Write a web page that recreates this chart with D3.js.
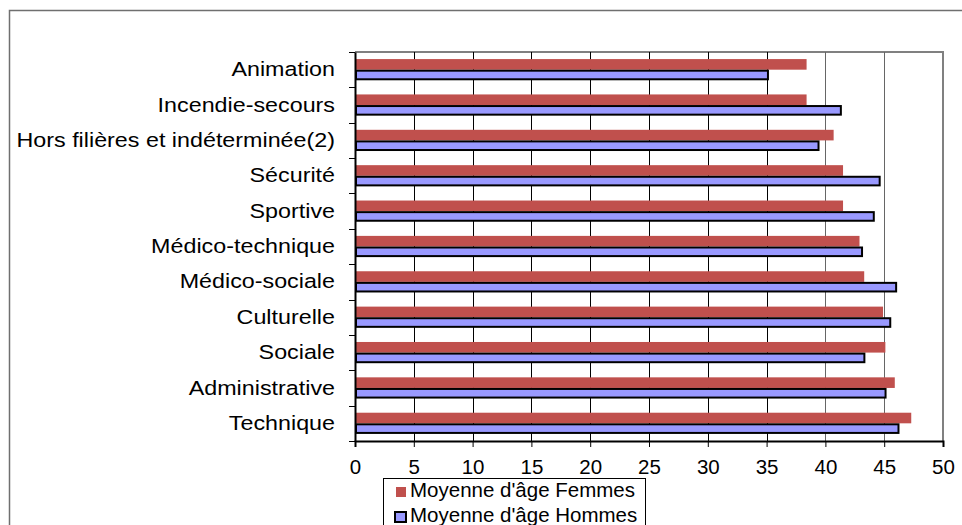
<!DOCTYPE html>
<html><head><meta charset="utf-8">
<script src="https://cdn.jsdelivr.net/npm/d3@7"></script>
<style>html,body{margin:0;padding:0;background:#fff;}svg{display:block;font-family:Arial,"Liberation Sans",sans-serif;}</style>
</head><body>
<svg id="c" width="962" height="525"></svg>
<script>
const categories = ["Animation","Incendie-secours","Hors filières et indéterminée(2)","Sécurité","Sportive","Médico-technique","Médico-sociale","Culturelle","Sociale","Administrative","Technique"];
const femmes = [38.4,38.4,40.7,41.5,41.5,42.9,43.3,44.9,45.1,45.9,47.3];
const hommes = [35.2,41.4,39.5,44.7,44.2,43.2,46.1,45.6,43.4,45.2,46.3];
const seriesNames = ["Moyenne d'âge Femmes","Moyenne d'âge Hommes"];
const xTicks = [0,5,10,15,20,25,30,35,40,45,50];

const FONT = "Arial,'Liberation Sans',sans-serif";
const svg = d3.select("#c");
const L=355, R=943, T=52, B=441;
// outer chart frame
svg.append("rect").attr("x",9.5).attr("y",10.5).attr("width",970).attr("height",530)
  .attr("fill","none").attr("stroke","#6f6f6f").attr("stroke-width",1.5);

const x = d3.scaleLinear().domain([0,50]).range([L,R]);
const y = d3.scaleBand().domain(categories).range([T,B]).paddingInner(0.4).paddingOuter(0.2);
const sub = d3.scaleBand().domain(["F","H"]).range([0,y.bandwidth()]);

// plot border (top/right gray)
svg.append("path").attr("d",`M${L},${T}H${R}V${B}`).attr("fill","none").attr("stroke","#808080").attr("stroke-width",2);
// gridlines
svg.append("g").selectAll("line").data(xTicks.filter(d=>d>0&&d<50)).join("line")
  .attr("x1",d=>Math.round(x(d))+0.5).attr("x2",d=>Math.round(x(d))+0.5).attr("y1",T).attr("y2",B)
  .attr("stroke",d=>d>=40?"#666":"#000").attr("stroke-width",1);

// bars
const g = svg.append("g");
g.selectAll("rect.f").data(categories).join("rect").attr("class","f")
  .attr("x",x(0)).attr("y",(d)=>y(d)+sub("F"))
  .attr("width",(d,i)=>x(femmes[i])-x(0)).attr("height",sub.bandwidth())
  .attr("fill","#C0504D");
g.selectAll("rect.h").data(categories).join("rect").attr("class","h")
  .attr("x",x(0)+1).attr("y",(d)=>y(d)+sub("H")+1)
  .attr("width",(d,i)=>x(hommes[i])-x(0)-2).attr("height",sub.bandwidth()-2)
  .attr("fill","#9999FF").attr("stroke","#000").attr("stroke-width",2);

// x axis
const xa = svg.append("g").attr("transform",`translate(0,${B})`)
  .call(d3.axisBottom(x).tickValues(xTicks).tickSize(6).tickPadding(12.5).tickFormat(d3.format("d")));
xa.select(".domain").attr("stroke","#000").attr("stroke-width",2);
xa.selectAll(".tick line").attr("stroke","#000");
xa.selectAll("text").attr("font-size",20.5).attr("fill","#000").attr("font-family",FONT);

// y axis
const SX = 1.137;
const ya = svg.append("g").attr("transform",`translate(${L},0)`)
  .call(d3.axisLeft(y).tickSize(0).tickPadding(0));
ya.select(".domain").attr("stroke","#000").attr("stroke-width",2);
ya.selectAll("text").attr("font-size",20.5).attr("fill","#000").attr("font-family",FONT)
  .attr("x",-20/SX).attr("transform",`scale(${SX},1)`);
// category boundary ticks
const bounds = d3.range(categories.length+1).map(k=>T + k*(B-T)/categories.length);
svg.append("g").selectAll("line").data(bounds).join("line")
  .attr("x1",L-6).attr("x2",L).attr("y1",d=>Math.round(d)+0.5).attr("y2",d=>Math.round(d)+0.5)
  .attr("stroke","#000").attr("stroke-width",1);

// legend
const lg = svg.append("g");
lg.append("rect").attr("x",383.5).attr("y",478.5).attr("width",262).attr("height",60)
  .attr("fill","#fff").attr("stroke","#000").attr("stroke-width",1);
const colors=["#C0504D","#9999FF"];
seriesNames.forEach((s,i)=>{
  const base = 497 + i*25;
  if(i===0) lg.append("rect").attr("x",396).attr("y",base-10).attr("width",10).attr("height",10).attr("fill",colors[i]);
  else lg.append("rect").attr("x",395).attr("y",base-10).attr("width",11).attr("height",10).attr("fill",colors[i]).attr("stroke","#000").attr("stroke-width",2);
  lg.append("text").attr("x",410).attr("y",base).attr("font-size",20.5).attr("font-family",FONT).attr("fill","#000").text(s);
});
</script>
</body></html>
